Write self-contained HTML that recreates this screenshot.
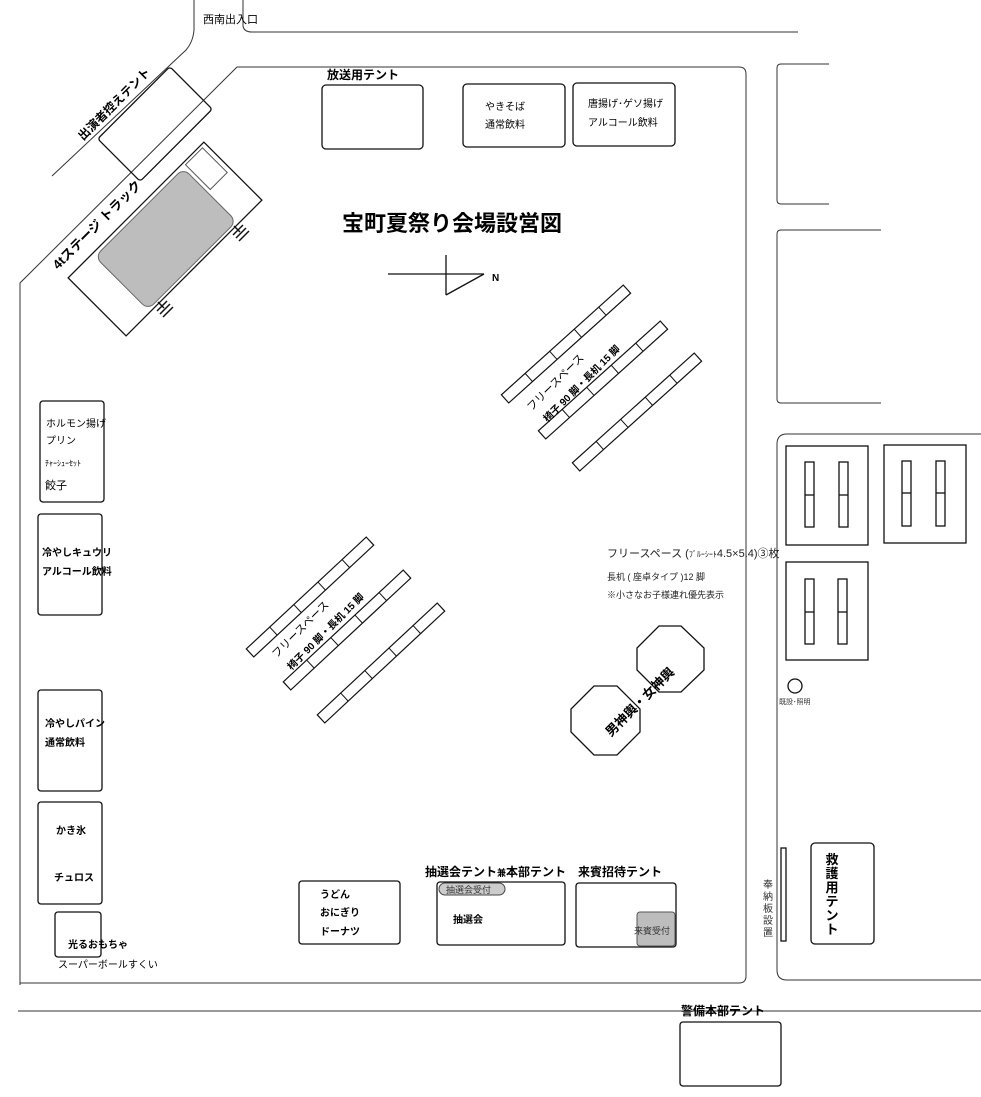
<!DOCTYPE html>
<html><head><meta charset="utf-8"><style>
html,body{margin:0;padding:0;background:#fff;}
svg{display:block;font-family:"Liberation Sans","Noto Sans CJK JP",sans-serif;}
.b{font-weight:bold;}
</style></head><body>
<svg width="981" height="1097" viewBox="0 0 981 1097" xmlns="http://www.w3.org/2000/svg">
<g fill="none" stroke="#333" stroke-width="1">
<path d="M194 0 L194 30 Q193 42 186 50 L52 176"/>
<path d="M243 0 L243 26 Q244 32 252 32 L798 32"/>
<path d="M18 1011 L981 1011"/>
<path d="M20 985 L20 283 L237 67 L739 67 Q746 67 746 74 L746 976 Q746 983 739 983 L20 983"/>
<path d="M829 64 L781 64 Q777 64 777 68 L777 200 Q777 204 781 204 L829 204"/>
<path d="M881 230 L781 230 Q777 230 777 234 L777 399 Q777 403 781 403 L881 403"/>
<path d="M981 434 L787 434 Q777 434 777 444 L777 970 Q777 980 787 980 L981 980"/>
</g>
<g fill="none" stroke="#111" stroke-width="1.3">
<rect x="786" y="446" width="82" height="99"/>
<rect x="884" y="445" width="82" height="98"/>
<rect x="786" y="562" width="82" height="98"/>
<rect x="805" y="462" width="9" height="65"/><line x1="805" y1="495" x2="814" y2="495"/>
<rect x="839" y="462" width="9" height="65"/><line x1="839" y1="495" x2="848" y2="495"/>
<rect x="902" y="461" width="9" height="65"/><line x1="902" y1="493" x2="911" y2="493"/>
<rect x="936" y="461" width="9" height="65"/><line x1="936" y1="493" x2="945" y2="493"/>
<rect x="805" y="579" width="9" height="65"/><line x1="805" y1="612" x2="814" y2="612"/>
<rect x="838" y="579" width="9" height="65"/><line x1="838" y1="612" x2="847" y2="612"/>
<circle cx="795" cy="686" r="7"/>
<rect x="781" y="848" width="5" height="93"/>
<rect x="811" y="843" width="63" height="101" rx="4"/>
<rect x="322" y="85" width="101" height="64" rx="4"/>
<rect x="463" y="84" width="102" height="63" rx="4"/>
<rect x="573" y="83" width="102" height="63" rx="4"/>
<rect x="40" y="401" width="64" height="101" rx="3"/>
<rect x="38" y="514" width="64" height="101" rx="3"/>
<rect x="38" y="690" width="64" height="101" rx="3"/>
<rect x="38" y="802" width="64" height="102" rx="3"/>
<rect x="55" y="912" width="46" height="45" rx="3"/>
<rect x="299" y="881" width="101" height="63" rx="3"/>
<rect x="437" y="882" width="128" height="63" rx="3"/>
<rect x="576" y="883" width="100" height="64" rx="3"/>
<rect x="680" y="1022" width="101" height="64" rx="3"/>
<line x1="388" y1="274" x2="484" y2="274"/>
<line x1="446" y1="255" x2="446" y2="295"/>
<line x1="446" y1="295" x2="484" y2="274"/>
<polygon points="659,626 681,626 704,648 704,670 681,692 659,692 637,670 637,648"/>
<polygon points="594,686 617,686 640,709 640,732 617,755 594,755 571,732 571,709"/>
</g>
<rect x="637" y="912" width="38" height="34" rx="3" fill="#bdbdbd" stroke="#555"/>
<rect x="439" y="883" width="66" height="12" rx="6" fill="#ccc" stroke="#444"/>

<g transform="translate(155,124) rotate(-45)">
<rect x="-51" y="-30" width="102" height="60" rx="3" fill="none" stroke="#111" stroke-width="1.3"/>
</g>
<text transform="translate(117,107) rotate(-45)" font-size="12" class="b" text-anchor="middle">出演者控えテント</text>
<g transform="translate(165,239) rotate(-45)">
<rect x="-96" y="-41" width="192" height="82" fill="#fff" stroke="#111" stroke-width="1.3"/>
<rect x="-62" y="-37" width="125" height="75" rx="8" fill="#bdbdbd" stroke="#666"/>
<rect x="67" y="-38" width="24" height="35" fill="none" stroke="#555"/>
</g>
<g stroke="#111" stroke-width="1.5" fill="none">
<path d="M234 226 L240 232 M236 238 L246 228 M233 235 L243 225 M239 241 L249 231"/>
<path d="M158 302 L164 308 M160 314 L170 304 M157 311 L167 301 M163 317 L173 307"/>
</g>
<text transform="translate(100,228) rotate(-45)" font-size="13" class="b" text-anchor="middle">4tステージ トラック</text>

<defs>
<g id="bench">
<rect x="-82" y="-5.5" width="164" height="11" fill="#fff" stroke="#111" stroke-width="1.2"/>
<path d="M-50 -5.5 V5.5 M-17 -5.5 V5.5 M16 -5.5 V5.5 M49 -5.5 V5.5" stroke="#111" stroke-width="1"/>
</g>
</defs>
<use href="#bench" transform="translate(566,344) rotate(-42)"/>
<use href="#bench" transform="translate(603,380) rotate(-42)"/>
<use href="#bench" transform="translate(637,412) rotate(-42)"/>
<use href="#bench" transform="translate(310,597) rotate(-43)"/>
<use href="#bench" transform="translate(347,630) rotate(-43)"/>
<use href="#bench" transform="translate(381,663) rotate(-43)"/>
<text transform="translate(558,385) rotate(-45)" font-size="11" text-anchor="middle">フリースペース</text>
<text transform="translate(584,386) rotate(-45)" font-size="10" class="b" text-anchor="middle">椅子 90 脚・長机 15 脚</text>
<text transform="translate(303,632) rotate(-45)" font-size="11" text-anchor="middle">フリースペース</text>
<text transform="translate(328,634) rotate(-45)" font-size="10" class="b" text-anchor="middle">椅子 90 脚・長机 15 脚</text>
<text transform="translate(643,705) rotate(-45)" font-size="13" class="b" text-anchor="middle">男神輿・女神輿</text>

<text x="203" y="23" font-size="11">西南出入口</text>
<text x="327" y="79" font-size="12" class="b">放送用テント</text>
<text x="485" y="110" font-size="10">やきそば</text>
<text x="485" y="128" font-size="10">通常飲料</text>
<text x="588" y="107" font-size="10">唐揚げ･ゲソ揚げ</text>
<text x="588" y="126" font-size="10">アルコール飲料</text>
<text x="342" y="231" font-size="22" class="b">宝町夏祭り会場設営図</text>
<text x="492" y="281" font-size="10" class="b">N</text>
<text x="46" y="427" font-size="10">ホルモン揚げ</text>
<text x="46" y="444" font-size="10">プリン</text>
<text x="45" y="466" font-size="8">ﾁｬｰｼｭｰｾｯﾄ</text>
<text x="45" y="489" font-size="11">餃子</text>
<text x="42" y="556" font-size="10" class="b">冷やしキュウリ</text>
<text x="42" y="575" font-size="10" class="b">アルコール飲料</text>
<text x="45" y="727" font-size="10" class="b">冷やしパイン</text>
<text x="45" y="746" font-size="10" class="b">通常飲料</text>
<text x="56" y="834" font-size="10" class="b">かき氷</text>
<text x="54" y="881" font-size="10" class="b">チュロス</text>
<text x="68" y="948" font-size="10" class="b">光るおもちゃ</text>
<text x="58" y="968" font-size="10">スーパーボールすくい</text>
<text x="320" y="898" font-size="10" class="b">うどん</text>
<text x="320" y="916" font-size="10" class="b">おにぎり</text>
<text x="320" y="935" font-size="10" class="b">ドーナツ</text>
<text x="425" y="876" font-size="12" class="b">抽選会テント<tspan font-size="9">兼</tspan>本部テント</text>
<text x="446" y="893" font-size="9" fill="#333">抽選会受付</text>
<text x="453" y="923" font-size="10" class="b">抽選会</text>
<text x="578" y="876" font-size="12" class="b">来賓招待テント</text>
<text x="634" y="934" font-size="9" fill="#333">来賓受付</text>
<text x="681" y="1015" font-size="12" class="b">警備本部テント</text>
<text x="607" y="557" font-size="11" fill="#222">フリースペース (<tspan font-size="8">ﾌﾞﾙｰｼｰﾄ</tspan>4.5×5.4)③枚</text>
<text x="607" y="580" font-size="9" fill="#222">長机 ( 座卓タイプ )12 脚</text>
<text x="607" y="598" font-size="9" fill="#222">※小さなお子様連れ優先表示</text>
<text x="779" y="704" font-size="7" fill="#333">既設･照明</text>
<g font-size="10" fill="#333" text-anchor="middle">
<text x="768" y="888">奉</text><text x="768" y="900">納</text><text x="768" y="912">板</text><text x="768" y="924">設</text><text x="768" y="936">置</text>
</g>
<g font-size="13" class="b" text-anchor="middle">
<text x="832" y="864">救</text><text x="832" y="878">護</text><text x="832" y="892">用</text><text x="832" y="906">テ</text><text x="832" y="920">ン</text><text x="832" y="934">ト</text>
</g>
</svg>
</body></html>
